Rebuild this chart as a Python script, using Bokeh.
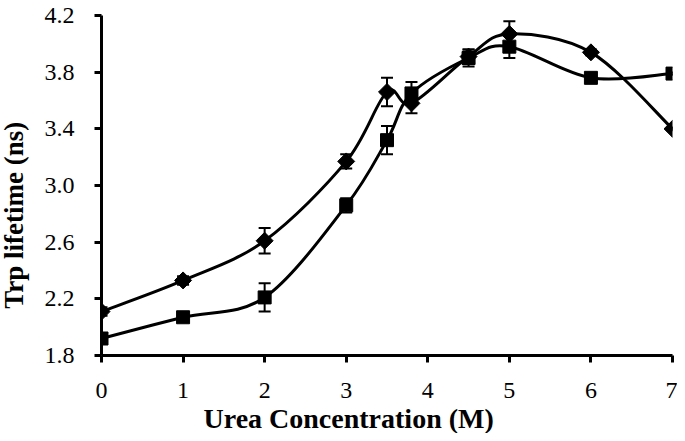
import numpy as np
from bokeh.plotting import figure
from bokeh.layouts import row
from bokeh.models import (ColumnDataSource, Whisker, TeeHead, Title, Range1d, FixedTicker,
                          CustomJSTickFormatter)
from bokeh.core.properties import value
from bokeh.embed import file_html
from bokeh.resources import INLINE

urea = [0, 1, 2, 3, 3.5, 3.8, 4.5, 5, 6, 7]
diamond_vals = [2.11, 2.33, 2.61, 3.17, 3.66, 3.58, 3.91, 4.07, 3.94, 3.40]
diamond_err = [0.03, 0.03, 0.09, 0.05, 0.10, 0.07, 0.05, 0.09, 0.02, 0.01]
square_vals = [1.92, 2.07, 2.21, 2.86, 3.32, 3.65, 3.90, 3.98, 3.76, 3.79]
square_err = [0.02, 0.02, 0.10, 0.05, 0.10, 0.08, 0.06, 0.08, 0.01, 0.01]
x_ticks = [0, 1, 2, 3, 4, 5, 6, 7]
y_ticks = [1.8, 2.2, 2.6, 3.0, 3.4, 3.8, 4.2]
x_title = "Urea Concentration (M)"
y_title = "Trp lifetime (ns)"

SERIF = "Liberation Serif"
TITLE_W = 34

# narrow side panel holding the y-axis title
side = figure(width=TITLE_W, height=433, output_backend="svg", toolbar_location=None,
              x_range=Range1d(0, 1), y_range=Range1d(1.8, 4.2),
              x_axis_location=None, y_axis_location=None,
              min_border_left=0, min_border_right=0, min_border_top=15, min_border_bottom=75)
side.grid.visible = False
side.outline_line_color = None
side.text(x=[0.40], y=[2.79], text=[y_title], angle=np.pi / 2, text_align="center",
          text_baseline="middle", text_font=value(SERIF), text_font_style="bold",
          text_font_size="27px", text_color="black")

p = figure(width=677 - TITLE_W, height=433, output_backend="svg", toolbar_location=None,
           x_range=Range1d(0, 7), y_range=Range1d(1.8, 4.2),
           min_border_left=101 - TITLE_W, min_border_right=5, min_border_top=15,
           min_border_bottom=75)
p.grid.visible = False
p.outline_line_color = None
p.background_fill_color = "white"
p.border_fill_color = "white"

for ax in (p.xaxis[0], p.yaxis[0]):
    ax.axis_line_width = 3
    ax.axis_line_color = "black"
    ax.major_tick_line_width = 3
    ax.major_tick_line_color = "black"
    ax.major_tick_out = 7
    ax.major_tick_in = 0
    ax.minor_tick_line_color = None
    ax.major_label_text_font = SERIF
    ax.major_label_text_font_size = "24px"
    ax.major_label_text_color = "black"
p.xaxis[0].ticker = FixedTicker(ticks=x_ticks)
p.yaxis[0].ticker = FixedTicker(ticks=y_ticks)
p.yaxis[0].formatter = CustomJSTickFormatter(code="return tick.toFixed(1);")
p.xaxis[0].major_label_standoff = 20
p.yaxis[0].major_label_standoff = 20


def bezier_source(xs, ys):
    xs = np.asarray(xs, float)
    ys = np.asarray(ys, float)
    n = len(xs)
    px = np.concatenate([[xs[0]], xs, [xs[-1]]])
    py = np.concatenate([[ys[0]], ys, [ys[-1]]])
    d = dict(x0=[], y0=[], x1=[], y1=[], cx0=[], cy0=[], cx1=[], cy1=[])
    for i in range(n - 1):
        j = i + 1
        d["x0"].append(px[j]); d["y0"].append(py[j])
        d["x1"].append(px[j + 1]); d["y1"].append(py[j + 1])
        d["cx0"].append(px[j] + (px[j + 1] - px[j - 1]) / 6)
        d["cy0"].append(py[j] + (py[j + 1] - py[j - 1]) / 6)
        d["cx1"].append(px[j + 1] - (px[j + 2] - px[j]) / 6)
        d["cy1"].append(py[j + 1] - (py[j + 2] - py[j]) / 6)
    return ColumnDataSource(d)


for vals, errs in ((diamond_vals, diamond_err), (square_vals, square_err)):
    p.bezier(x0="x0", y0="y0", x1="x1", y1="y1", cx0="cx0", cy0="cy0", cx1="cx1", cy1="cy1",
             source=bezier_source(urea, vals), line_color="black", line_width=3)
    src = ColumnDataSource(dict(x=urea, upper=[v + e for v, e in zip(vals, errs)],
                                lower=[v - e for v, e in zip(vals, errs)]))
    w = Whisker(base="x", upper="upper", lower="lower", source=src,
                line_color="black", line_width=2,
                upper_head=TeeHead(size=12, line_width=2, line_color="black"),
                lower_head=TeeHead(size=12, line_width=2, line_color="black"))
    p.add_layout(w)

p.scatter(urea, diamond_vals, marker="square", angle=np.pi / 4, size=12,
          fill_color="black", line_color="black")
p.scatter(urea, square_vals, marker="square", size=13,
          fill_color="black", line_color="black")

p.add_layout(Title(text=x_title, align="left", offset=102, standoff=0,
                   text_font=SERIF, text_font_style="bold",
                   text_font_size="28px", text_color="black"), "below")

layout = row(side, p, spacing=0)
open("out.html", "w").write(file_html(layout, INLINE))
